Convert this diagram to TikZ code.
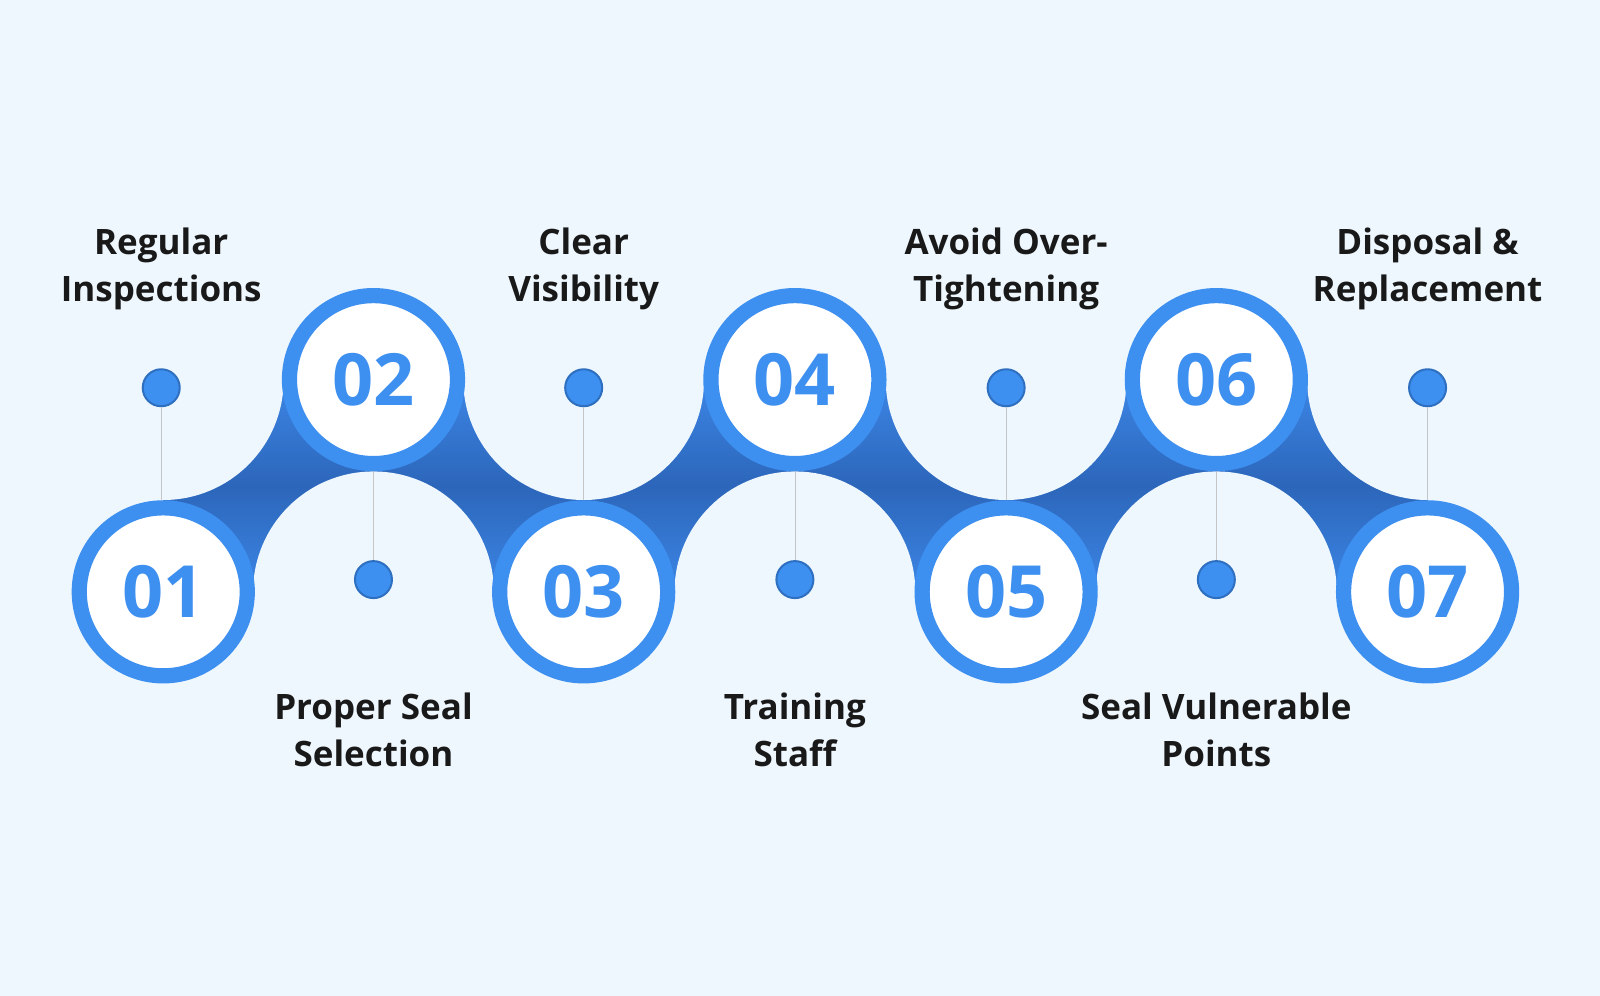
\documentclass[tikz,border=0pt]{standalone}
\usepackage{fontspec}
\setmainfont{Open Sans}
\begin{document}
\begin{tikzpicture}[x=0.5102pt,y=-0.5102pt,
  ring/.style={circle,draw=ringblue,line width=7.6pt,fill=white,minimum size=84pt,inner sep=0pt,font=\fontsize{36}{40}\selectfont\bfseries,text=ringblue},
  dot/.style={circle,fill=ringblue,draw=dotdark,line width=1pt,minimum size=18.5pt,inner sep=0pt},
  lbl/.style={align=center,font=\fontsize{17.5}{23.5}\selectfont\bfseries,text=black!90},
  stem/.style={draw=gray!45,line width=0.4pt}]
\definecolor{bg}{HTML}{EEF7FE}
\definecolor{ringblue}{HTML}{3D8FF0}
\definecolor{dotdark}{HTML}{2E6FC0}
\definecolor{bandtop}{HTML}{3C86E6}
\definecolor{bandmid}{HTML}{2C66BA}
\fill[bg] (0,0) rectangle (1568,976);
\useasboundingbox (0,0) rectangle (1568,976);
% band
\shade[top color=bandtop,bottom color=bandtop,middle color=bandmid] (160,372) rectangle (1399,580);
\foreach \x/\y in {160/372,366/580,572/372,779/580,986/372,1192/580,1399/372}
  \fill[bg] (\x,\y) circle[radius=118];
% stems
\foreach \n/\x/\y/\e in {a/158/380/490,b/366/568/462,c/572/380/490,d/779/568/462,e/986/380/490,f/1192/568/462,g/1399/380/490}{
  \coordinate (s\n) at (\x,\e);
  \node[dot] (d\n) at (\x,\y) {};
  \draw[stem] (d\n) -- (s\n);
}
% rings
\node[ring] (c1) at (160,580) {01};
\node[ring] (c2) at (366,372) {02};
\node[ring] (c3) at (572,580) {03};
\node[ring] (c4) at (779,372) {04};
\node[ring] (c5) at (986,580) {05};
\node[ring] (c6) at (1192,372) {06};
\node[ring] (c7) at (1399,580) {07};
% labels
\node[lbl] (l1) at (158,264) {Regular\\Inspections};
\node[lbl] (l2) at (366,715) {Proper Seal\\Selection};
\node[lbl] (l3) at (572,264) {Clear\\Visibility};
\node[lbl] (l4) at (779,715) {Training\\Staff};
\node[lbl] (l5) at (986,264) {Avoid Over-\\Tightening};
\node[lbl] (l6) at (1192,715) {Seal Vulnerable\\Points};
\node[lbl] (l7) at (1399,264) {Disposal \&\\Replacement};
\end{tikzpicture}
\end{document}
